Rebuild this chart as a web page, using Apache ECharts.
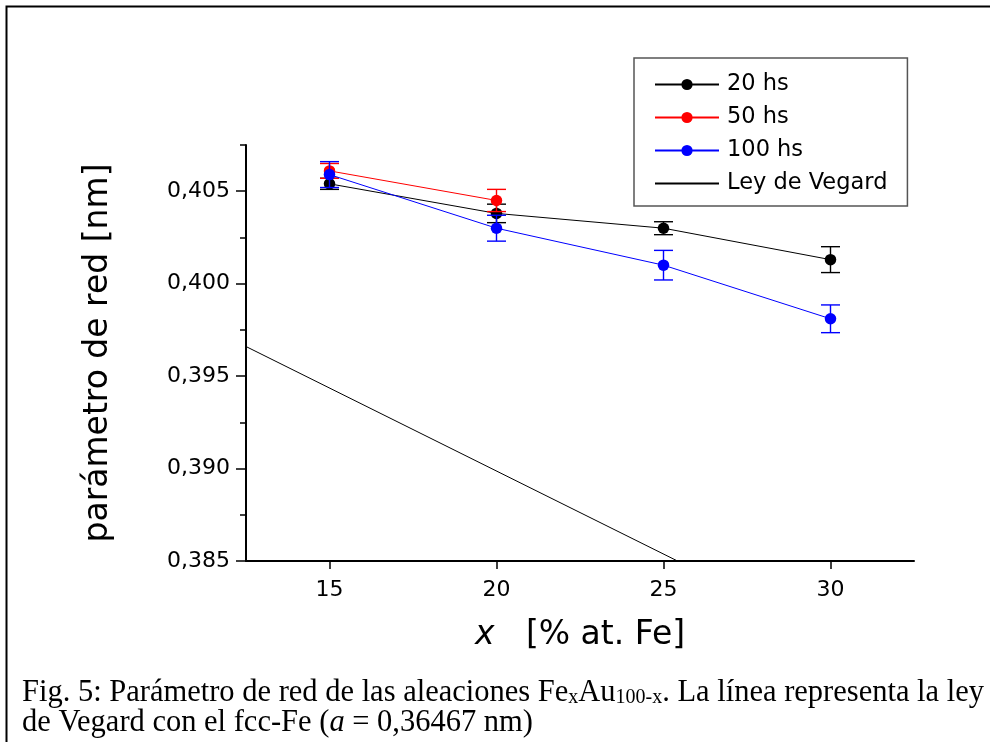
<!DOCTYPE html>
<html><head><meta charset="utf-8">
<script src="https://cdn.jsdelivr.net/npm/echarts@6/dist/echarts.min.js"></script>
<style>html,body{margin:0;padding:0;background:#fff}#c{width:990px;height:742px}</style>
</head><body><div id="c"></div>
<script>
// ---- data ----
const xValues = [15, 20, 25, 30];
const h20 = [0.4054, 0.4038, 0.4030, 0.4013];
const h20Err = [0.0003, 0.0005, 0.00035, 0.0007];
const x50 = [15, 20];
const h50 = [0.4061, 0.4045];
const h50Err = [0.0004, 0.0006];
const h100 = [0.4059, 0.4030, 0.4010, 0.3981];
const h100Err = [0.0007, 0.0007, 0.0008, 0.00075];
const vegardX = [12.5, 25.42];
const vegardY = [0.3966, 0.385];
const xTicks = [15, 20, 25, 30];
const yTicks = [0.385, 0.390, 0.395, 0.400, 0.405];
const yMinorTicks = [0.3875, 0.3925, 0.3975, 0.4025, 0.4075];
const seriesNames = ['20 hs', '50 hs', '100 hs', 'Ley de Vegard'];
const yAxisTitle = 'parámetro de red [nm]';
const captionLine1 = 'Fig. 5: Parámetro de red de las aleaciones Fe{sub|x}Au{sub|100-x}. La línea representa la ley';
const captionLine2 = 'de Vegard con el fcc-Fe ({it|a} = 0,36467 nm)';

const SANS = 'DejaVu Sans';
const SERIF = 'Liberation Serif';
const pairs = (xs, ys) => xs.map((x, i) => [x, ys[i]]);
const errs = (xs, ys, es) => xs.map((x, i) => [x, ys[i] - es[i], ys[i] + es[i]]);

function errRender(color) {
  return function (params, api) {
    const x = api.value(0), lo = api.value(1), hi = api.value(2);
    const pLo = api.coord([x, lo]), pHi = api.coord([x, hi]);
    const hw = 9.5;
    const style = { stroke: color, lineWidth: 1.4, fill: null };
    return {
      type: 'group', children: [
        { type: 'line', shape: { x1: pLo[0], y1: pLo[1], x2: pHi[0], y2: pHi[1] }, style },
        { type: 'line', shape: { x1: pLo[0] - hw, y1: pLo[1], x2: pLo[0] + hw, y2: pLo[1] }, style },
        { type: 'line', shape: { x1: pHi[0] - hw, y1: pHi[1], x2: pHi[0] + hw, y2: pHi[1] }, style }
      ]
    };
  };
}

function errSeries(id, data, color, z) {
  return {
    id: id, type: 'custom', renderItem: errRender(color), data: data,
    encode: { x: 0, y: [1, 2] }, z: z, silent: true, clip: false
  };
}
function lineSeries(name, data, color, z) {
  return {
    name: name, type: 'line', data: data, symbol: 'circle', symbolSize: 11.5,
    itemStyle: { color: color }, lineStyle: { color: color, width: 1 }, z: z, animation: false
  };
}

const chart = echarts.init(document.getElementById('c'), null, { renderer: 'canvas' });
chart.setOption({
  animation: false,
  backgroundColor: '#fff',
  grid: { left: 246, right: 76, top: 145, bottom: 181 },
  xAxis: {
    type: 'value', min: 12.5, max: 32.5,
    name: '{i|x}   [% at. Fe]', nameLocation: 'middle', nameGap: 58,
    nameTextStyle: { fontFamily: SANS, fontSize: 33, color: '#000',
      rich: { i: { fontFamily: SANS, fontSize: 33, fontStyle: 'italic', color: '#000' } } },
    axisLine: { lineStyle: { color: '#000', width: 2 } },
    axisTick: { customValues: xTicks, length: 8, lineStyle: { color: '#000', width: 1.5 } },
    axisLabel: { customValues: xTicks, fontFamily: SANS, fontSize: 22, color: '#000', margin: 18 },
    splitLine: { show: false }
  },
  yAxis: [{
    type: 'value', min: 0.385, max: 0.4075, position: 'left',
    name: yAxisTitle, nameLocation: 'middle', nameGap: 131,
    nameTextStyle: { fontFamily: SANS, fontSize: 33, color: '#000' },
    axisLine: { lineStyle: { color: '#000', width: 2 } },
    axisTick: { customValues: yTicks, length: 10, lineStyle: { color: '#000', width: 1.5 } },
    axisLabel: { customValues: yTicks, fontFamily: SANS, fontSize: 22, color: '#000', margin: 16,
      formatter: v => v.toFixed(3).replace('.', ',') },
    splitLine: { show: false }
  }, {
    type: 'value', min: 0.385, max: 0.4075, position: 'left', offset: 0,
    axisLine: { show: false },
    axisTick: { customValues: yMinorTicks, length: 6, lineStyle: { color: '#000', width: 1.5 } },
    axisLabel: { show: false },
    splitLine: { show: false }
  }],
  legend: {
    data: [
      { name: seriesNames[0] },
      { name: seriesNames[1] },
      { name: seriesNames[2] },
      { name: seriesNames[3], itemStyle: { color: 'rgba(0,0,0,0)', borderWidth: 0, opacity: 0 } }
    ],
    orient: 'vertical', left: 634, top: 58,
    padding: [15, 20, 11, 20], itemWidth: 64, itemHeight: 14, itemGap: 10,
    borderColor: '#555', borderWidth: 1.5, backgroundColor: '#fff', selectedMode: false,
    textStyle: { fontFamily: SANS, fontSize: 22.5, color: '#000', lineHeight: 22.5, padding: [0, 0, 0, 3] }
  },
  series: [
    {
      name: seriesNames[3], type: 'line', data: pairs(vegardX, vegardY), symbol: 'none',
      lineStyle: { color: '#000', width: 1 }, itemStyle: { color: '#000' }, z: 2
    },
    errSeries('e20', errs(xValues, h20, h20Err), '#000', 3),
    lineSeries(seriesNames[0], pairs(xValues, h20), '#000', 4),
    errSeries('e50', errs(x50, h50, h50Err), '#ff0000', 5),
    lineSeries(seriesNames[1], pairs(x50, h50), '#ff0000', 6),
    errSeries('e100', errs(xValues, h100, h100Err), '#0000ff', 7),
    lineSeries(seriesNames[2], pairs(xValues, h100), '#0000ff', 8)
  ],
  graphic: [
    { type: 'rect', left: 4, top: 4, shape: { x: 0, y: 0, width: 1000, height: 1000 },
      style: { fill: null, stroke: '#000', lineWidth: 2 }, z: 0, silent: true },
    { type: 'text', left: 22, top: 677, silent: true,
      style: {
        text: captionLine1 + '\n' + captionLine2,
        fontFamily: SERIF, fontSize: 30.5, lineHeight: 30, fill: '#000',
        rich: {
          sub: { fontFamily: SERIF, fontSize: 20, lineHeight: 30, verticalAlign: 'bottom', fill: '#000' },
          it: { fontFamily: SERIF, fontSize: 30.5, lineHeight: 30, fontStyle: 'italic', fill: '#000' }
        }
      } }
  ]
});
</script></body></html>
